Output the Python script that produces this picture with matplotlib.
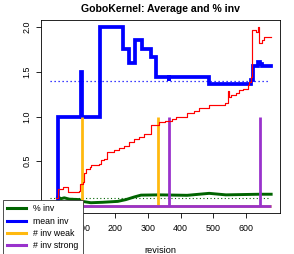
import matplotlib
matplotlib.use("Agg")
import matplotlib.pyplot as plt
from matplotlib.lines import Line2D

plt.rcParams['font.family'] = ['Liberation Sans', 'DejaVu Sans']

title = "GoboKernel: Average and % inv"
xlabel = "revision"
legend_labels = ["% inv", "mean inv", "# inv weak", "# inv strong"]
colors = {"pct": "#006400", "mean": "#0000FF", "weak": "#FFB90F", "strong": "#9932CC", "red": "#FF0000"}

# mean inv (step series)
mean_x = [0, 25, 97, 99, 153, 225, 243, 262, 282, 309, 326, 363, 365, 487, 616, 621, 637, 643, 648, 676]
mean_y = [0, 1.0, 1.5, 1.0, 2.0, 1.75, 1.6, 1.86, 1.75, 1.67, 1.445, 1.40, 1.445, 1.365, 1.41, 1.565, 1.615, 1.59, 1.56, 1.56]

# red unlabeled series
red_x = [20, 27, 40, 55, 91, 93, 103, 104, 111, 122, 126, 152, 157, 167, 176, 196, 211, 227, 242, 257, 273, 288,
         308, 314, 335, 353, 374, 386, 420, 440, 456, 487, 534, 543, 548, 555, 570, 578, 590, 604, 609, 614, 617,
         630, 637, 640, 648, 654, 676]
red_y = [0.09, 0.19, 0.21, 0.16, 0.17, 0.25, 0.27, 0.37, 0.41, 0.44, 0.46, 0.47, 0.51, 0.52, 0.60, 0.625, 0.65,
         0.675, 0.71, 0.75, 0.775, 0.80, 0.90, 0.91, 0.935, 0.95, 0.973, 0.99, 1.037, 1.06, 1.09, 1.13, 1.15, 1.28,
         1.22, 1.24, 1.26, 1.30, 1.31, 1.35, 1.39, 1.44, 1.97, 1.95, 2.0, 1.82, 1.86, 1.89, 1.89]

# % inv
pct_x = [25, 35, 45, 60, 91, 100, 126, 162, 208, 233, 259, 279, 335, 420, 487, 538, 640, 676]
pct_y = [0.10, 0.08, 0.09, 0.075, 0.07, 0.05, 0.035, 0.04, 0.05, 0.07, 0.10, 0.12, 0.123, 0.118, 0.14, 0.123, 0.13, 0.13]

# averages (dotted)
avg_span = [0, 670]
mean_avg = 1.4
pct_avg = 0.09

# counts
rev_span = [0, 676]
weak_x = [98, 330]
weak_y = [1, 1]
strong_x = [363, 642]
strong_y = [1, 1]

x_ticks = [0, 100, 200, 300, 400, 500, 600]
x_ticklabels = ["", "100", "200", "300", "400", "500", "600"]
y_ticks = [0.0, 0.5, 1.0, 1.5, 2.0]
y_ticklabels = ["", "0.5", "1.0", "1.5", "2.0"]

fig = plt.figure(figsize=(2.94, 2.54), dpi=100)
ax = fig.add_axes([40.7 / 294, 1 - 213 / 254, (280 - 40.7) / 294, (213 - 20) / 254])

ax.plot(pct_x, pct_y, color=colors["pct"], lw=2.1, zorder=2)
ax.plot(avg_span, [pct_avg, pct_avg], color=colors["pct"], lw=0.8, dashes=(1, 2.2), zorder=2)
ax.plot(mean_x, mean_y, color=colors["mean"], lw=2.7, drawstyle="steps-post", zorder=3,
        solid_joinstyle="miter")
ax.plot(avg_span, [mean_avg, mean_avg], color=colors["mean"], lw=0.9, dashes=(1, 2.2), zorder=3)
ax.hlines(0, rev_span[0], rev_span[1], color=colors["weak"], lw=2.0, zorder=4)
ax.vlines(weak_x, 0, weak_y, color=colors["weak"], lw=2.0, zorder=4)
ax.hlines(0, rev_span[0], rev_span[1], color=colors["strong"], lw=2.0, zorder=5)
ax.vlines(strong_x, 0, strong_y, color=colors["strong"], lw=2.0, zorder=5)
ax.plot(red_x, red_y, color=colors["red"], lw=0.85, drawstyle="steps-post", zorder=6)

ax.set_xlim(-27, 703)
ax.set_ylim(-0.08, 2.08)
ax.set_xticks(x_ticks)
ax.set_xticklabels(x_ticklabels)
ax.set_yticks(y_ticks)
ax.set_yticklabels(y_ticklabels, rotation=90, va="center")
ax.tick_params(direction="out", length=3.5, width=0.6, labelsize=6.4)
ax.tick_params(axis="x", pad=4.5)
ax.tick_params(axis="y", pad=3)
for s in ax.spines.values():
    s.set_linewidth(0.6)
ax.set_title(title, fontsize=7.6, fontweight="bold", pad=5.5)
ax.set_xlabel(xlabel, fontsize=6.6, labelpad=9)

handles = [Line2D([], [], color=colors[k], lw=2.2) for k in ["pct", "mean", "weak", "strong"]]
leg = fig.legend(handles, legend_labels, loc="upper left", bbox_to_anchor=(2.7 / 294, 1 - 200 / 254),
                 fontsize=6.3, frameon=True, fancybox=False, framealpha=1, edgecolor="#333333",
                 handlelength=2.2, handletextpad=0.8, labelspacing=0.38, borderpad=0.5, borderaxespad=0)
leg.get_frame().set_linewidth(0.6)

fig.savefig("out.png", dpi=100)
